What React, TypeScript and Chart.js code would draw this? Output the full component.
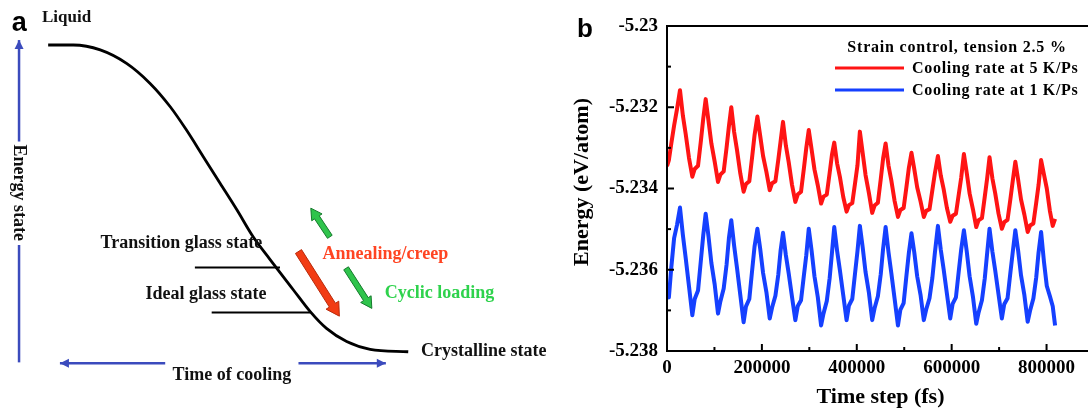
import React, { useEffect, useRef } from "react";
import { Chart, registerables } from "chart.js";

Chart.register(...registerables);

const SERIF = '"Liberation Serif", "Times New Roman", serif';
const SANS = '"Liberation Sans", Arial, sans-serif';

// ---------------- Panel a: schematic (arbitrary units 0–100) ----------------
const coolingTime = [8.6, 13.1, 17.9, 22.6, 26.8, 30.4, 33.3, 36.3, 39.3, 42.3, 45.2, 48.2, 52.4, 55.4, 58.3, 61.9, 66.1, 72.9];
const coolingEnergy = [89.0, 89.0, 87.8, 84.5, 79.6, 73.9, 68.2, 61.7, 55.2, 48.7, 42.1, 36.6, 29.1, 23.8, 19.7, 16.5, 14.6, 14.0];

const transitionLineTime = [34.8, 50.0];
const transitionLineEnergy = [34.6, 34.6];
const idealLineTime = [37.8, 55.4];
const idealLineEnergy = [23.6, 23.6];

// axis arrows (last point = arrow tip when it has a head)
const energyAxisLowTime = [3.4, 3.4];
const energyAxisLowEnergy = [11.4, 40.1];
const energyAxisHighTime = [3.4, 3.4];
const energyAxisHighEnergy = [65.4, 90.2];
const timeAxisLeftTime = [29.5, 10.7];
const timeAxisLeftEnergy = [11.2, 11.2];
const timeAxisRightTime = [53.3, 68.9];
const timeAxisRightEnergy = [11.2, 11.2];

// block arrows: [tailTime, tailEnergy, tipTime, tipEnergy]
const annealingArrow = [53.3, 38.5, 60.6, 22.7];
const cyclicUpArrow = [58.9, 42.1, 55.5, 49.1];
const cyclicDownArrow = [61.8, 34.4, 66.4, 24.6];

const schematicLabels = ["Liquid", "Transition glass state", "Ideal glass state", "Crystalline state", "Annealing/creep", "Cyclic loading", "Time of cooling", "Energy state"];
const schematicLabelTime = [7.5, 32.4, 36.8, 75.2, 57.6, 68.7, 41.4, 3.4];
const schematicLabelEnergy = [95.8, 40.5, 28.0, 14.0, 37.9, 28.4, 8.3, 52.9];

// ---------------- Panel b: energy vs time step ----------------
const timeSteps = [
  0, 4000, 9000, 15000, 21000,
  27400, 33400, 39400, 46400, 53400, 58400, 65400, 71400, 76400,
  81500, 87500, 93500, 100500, 107500, 112500, 119500, 125500, 130500,
  135500, 141500, 147500, 154500, 161500, 166500, 173500, 179500, 184500,
  190500, 196500, 202500, 209500, 216500, 221500, 228500, 234500, 239500,
  244500, 250500, 256500, 263500, 270500, 275500, 282500, 288500, 293500,
  298800, 304800, 310800, 317800, 324800, 329800, 336800, 342800, 347800,
  352500, 358500, 364500, 371500, 378500, 383500, 390500, 396500, 401500,
  406500, 412500, 418500, 425500, 432500, 437500, 444500, 450500, 455500,
  460800, 466800, 472800, 479800, 486800, 491800, 498800, 504800, 509800,
  515300, 521300, 527300, 534300, 541300, 546300, 553300, 559300, 564300,
  571000, 577000, 583000, 590000, 597000, 602000, 609000, 615000, 620000,
  625800, 631800, 637800, 644800, 651800, 656800, 663800, 669800, 674800,
  679800, 685800, 691800, 698800, 705800, 710800, 717800, 723800, 728800,
  734200, 740200, 746200, 753200, 760200, 765200, 772200, 778200, 783200,
  788500, 794500, 800500, 807000, 813000, 818000,
];

const energy5KPs = [
  -5.23345, -5.2333, -5.2329, -5.23245, -5.23205,
  -5.23158, -5.2322, -5.23266, -5.23325, -5.23371, -5.23352, -5.23344, -5.23283, -5.23228,
  -5.2318, -5.23234, -5.23289, -5.23334, -5.23384, -5.23366, -5.23358, -5.233, -5.23247,
  -5.232, -5.23261, -5.23305, -5.23363, -5.23408, -5.23389, -5.23382, -5.23322, -5.23269,
  -5.23223, -5.23271, -5.2332, -5.23359, -5.23404, -5.23387, -5.23382, -5.2333, -5.23283,
  -5.23236, -5.23294, -5.23335, -5.23391, -5.23433, -5.23415, -5.23408, -5.23351, -5.23301,
  -5.23256, -5.23304, -5.23353, -5.23392, -5.23437, -5.2342, -5.23415, -5.23362, -5.23316,
  -5.23287, -5.23338, -5.23372, -5.23421, -5.23457, -5.23441, -5.23436, -5.23386, -5.23343,
  -5.2326, -5.23313, -5.23367, -5.23411, -5.2346, -5.23442, -5.23435, -5.23377, -5.23326,
  -5.23289, -5.23343, -5.2338, -5.23431, -5.2347, -5.23453, -5.23448, -5.23395, -5.23349,
  -5.23312, -5.23353, -5.23397, -5.23431, -5.2347, -5.23455, -5.23451, -5.23404, -5.23365,
  -5.2332, -5.23368, -5.23401, -5.23448, -5.23482, -5.23467, -5.23462, -5.23414, -5.23374,
  -5.23315, -5.23362, -5.23412, -5.23451, -5.23495, -5.23478, -5.23473, -5.2342, -5.23375,
  -5.23323, -5.23375, -5.23412, -5.23462, -5.23499, -5.23483, -5.23477, -5.23426, -5.23381,
  -5.23334, -5.23379, -5.23427, -5.23464, -5.23507, -5.23491, -5.23486, -5.23435, -5.23391,
  -5.2333, -5.23365, -5.234, -5.23455, -5.23492, -5.23475,
];

const energy1KPs = [
  -5.2365, -5.23668, -5.23595, -5.23522, -5.2349,
  -5.23447, -5.23514, -5.23571, -5.23641, -5.23712, -5.23672, -5.23651, -5.23577, -5.23515,
  -5.23462, -5.23518, -5.23583, -5.23636, -5.23708, -5.23678, -5.23646, -5.23588, -5.23522,
  -5.23478, -5.23541, -5.23595, -5.23662, -5.23729, -5.2369, -5.23672, -5.23601, -5.23543,
  -5.23499, -5.23549, -5.23608, -5.23655, -5.2372, -5.23693, -5.23664, -5.23613, -5.23552,
  -5.23509, -5.23564, -5.23609, -5.23667, -5.23724, -5.2369, -5.23675, -5.23614, -5.23565,
  -5.23499, -5.23553, -5.23616, -5.23667, -5.23737, -5.23708, -5.23677, -5.23621, -5.23557,
  -5.23495, -5.23553, -5.23602, -5.23663, -5.23724, -5.23688, -5.23672, -5.23607, -5.23554,
  -5.23492, -5.23545, -5.23606, -5.23656, -5.23724, -5.23695, -5.23665, -5.23611, -5.23548,
  -5.23495, -5.23556, -5.23608, -5.23672, -5.23737, -5.23699, -5.23682, -5.23613, -5.23558,
  -5.2351, -5.23558, -5.23616, -5.23661, -5.23724, -5.23698, -5.2367, -5.2362, -5.23562,
  -5.23492, -5.2355, -5.23598, -5.23659, -5.2372, -5.23684, -5.23668, -5.23603, -5.23551,
  -5.23503, -5.23555, -5.23616, -5.23666, -5.23733, -5.23705, -5.23675, -5.23621, -5.23559,
  -5.23499, -5.23555, -5.23602, -5.23661, -5.2372, -5.23685, -5.2367, -5.23607, -5.23556,
  -5.23503, -5.23554, -5.23614, -5.23662, -5.23728, -5.23701, -5.23671, -5.23619, -5.23557,
  -5.23507, -5.2358, -5.2364, -5.23665, -5.2369, -5.23737,
];

const seriesNames = ["Cooling rate at 5 K/Ps", "Cooling rate at 1 K/Ps"];
const legendTitle = "Strain control, tension 2.5 %";

const RED = "#ff1414";
const BLUE = "#1540ff";
const AXIS_BLUE = "#3b4bbd";

const pts = (xs: number[], ys: number[]) => xs.map((x, i) => ({ x, y: ys[i] }));

function drawBlockArrow(ctx: CanvasRenderingContext2D, t: number[], tip: number[], sw: number, hw: number, hl: number, fill: string, stroke: string) {
  const dx = tip[0] - t[0];
  const dy = tip[1] - t[1];
  const len = Math.hypot(dx, dy);
  const ux = dx / len, uy = dy / len;
  const nx = -uy, ny = ux;
  const bx = tip[0] - ux * hl, by = tip[1] - uy * hl;
  ctx.beginPath();
  ctx.moveTo(t[0] + nx * sw, t[1] + ny * sw);
  ctx.lineTo(bx + nx * sw, by + ny * sw);
  ctx.lineTo(bx + nx * hw, by + ny * hw);
  ctx.lineTo(tip[0], tip[1]);
  ctx.lineTo(bx - nx * hw, by - ny * hw);
  ctx.lineTo(bx - nx * sw, by - ny * sw);
  ctx.lineTo(t[0] - nx * sw, t[1] - ny * sw);
  ctx.closePath();
  ctx.fillStyle = fill;
  ctx.fill();
  ctx.lineWidth = 1;
  ctx.strokeStyle = stroke;
  ctx.stroke();
}

function drawHead(ctx: CanvasRenderingContext2D, from: number[], tip: number[], len: number, half: number, color: string) {
  const dx = tip[0] - from[0];
  const dy = tip[1] - from[1];
  const l = Math.hypot(dx, dy);
  const ux = dx / l, uy = dy / l;
  const bx = tip[0] - ux * len, by = tip[1] - uy * len;
  ctx.beginPath();
  ctx.moveTo(tip[0], tip[1]);
  ctx.lineTo(bx - uy * half, by + ux * half);
  ctx.lineTo(bx + uy * half, by - ux * half);
  ctx.closePath();
  ctx.fillStyle = color;
  ctx.fill();
}

const schematicPlugin = {
  id: "schematic",
  afterDatasetsDraw(chart: any) {
    const { ctx } = chart;
    const xs = chart.scales.x, ys = chart.scales.y;
    const P = (u: number, v: number) => [xs.getPixelForValue(u), ys.getPixelForValue(v)];
    ctx.save();
    const heads = [
      [energyAxisHighTime, energyAxisHighEnergy],
      [timeAxisLeftTime, timeAxisLeftEnergy],
      [timeAxisRightTime, timeAxisRightEnergy],
    ];
    heads.forEach(([t, e]) => {
      drawHead(ctx, P(t[0], e[0]), P(t[1], e[1]), 9, 4.5, AXIS_BLUE);
    });
    drawBlockArrow(ctx, P(annealingArrow[0], annealingArrow[1]), P(annealingArrow[2], annealingArrow[3]), 3.6, 7.5, 13, "#f23c14", "#b82a0a");
    drawBlockArrow(ctx, P(cyclicUpArrow[0], cyclicUpArrow[1]), P(cyclicUpArrow[2], cyclicUpArrow[3]), 2.8, 6.2, 11, "#2fc44c", "#157a2c");
    drawBlockArrow(ctx, P(cyclicDownArrow[0], cyclicDownArrow[1]), P(cyclicDownArrow[2], cyclicDownArrow[3]), 2.8, 6.2, 11, "#2fc44c", "#157a2c");

    ctx.textBaseline = "middle";
    schematicLabels.forEach((txt, i) => {
      const [px, py] = P(schematicLabelTime[i], schematicLabelEnergy[i]);
      ctx.save();
      ctx.fillStyle = "#111";
      ctx.textAlign = "left";
      ctx.font = `bold 18px ${SERIF}`;
      if (txt === "Liquid") ctx.font = `bold 17px ${SERIF}`;
      if (txt === "Transition glass state" || txt === "Ideal glass state" || txt === "Time of cooling") ctx.textAlign = "center";
      if (txt === "Annealing/creep") ctx.fillStyle = "#ff4422";
      if (txt === "Cyclic loading") ctx.fillStyle = "#2ed24c";
      if (txt === "Energy state") {
        ctx.translate(px, py);
        ctx.rotate(Math.PI / 2);
        ctx.textAlign = "center";
        ctx.fillText(txt, 0, 0);
      } else {
        ctx.fillText(txt, px, py);
      }
      ctx.restore();
    });
    ctx.fillStyle = "#000";
    ctx.textAlign = "left";
    ctx.textBaseline = "alphabetic";
    ctx.font = `bold 27px ${SANS}`;
    const [lx, ly] = P(2.1, 92.3);
    ctx.fillText("a", lx, ly);
    ctx.restore();
  },
};

const energyPlugin = {
  id: "energyDecor",
  afterDraw(chart: any) {
    const { ctx, chartArea } = chart;
    const xs = chart.scales.x, ys = chart.scales.y;
    const { left, top, right, bottom } = chartArea;
    ctx.save();
    ctx.strokeStyle = "#000";
    ctx.lineWidth = 2;
    ctx.strokeRect(left, top, right - left, bottom - top);
    xs.ticks.forEach((t: any) => {
      const px = xs.getPixelForValue(t.value);
      const major = Math.round(t.value / 100000) % 2 === 0;
      ctx.beginPath();
      ctx.moveTo(px, bottom);
      ctx.lineTo(px, bottom - (major ? 7 : 4));
      ctx.stroke();
    });
    ys.ticks.forEach((t: any) => {
      const py = ys.getPixelForValue(t.value);
      const major = Math.round(t.value * 1000) % 2 === 0;
      ctx.beginPath();
      ctx.moveTo(left, py);
      ctx.lineTo(left + (major ? 7 : 4), py);
      ctx.stroke();
    });
    ctx.fillStyle = "#000";
    ctx.font = `bold 22px ${SERIF}`;
    ctx.textAlign = "center";
    ctx.textBaseline = "middle";
    ctx.save();
    ctx.translate(22, 182);
    ctx.rotate(-Math.PI / 2);
    ctx.fillText("Energy (eV/atom)", 0, 0);
    ctx.restore();
    ctx.font = `bold 16px ${SERIF}`;
    (ctx as any).letterSpacing = "0.8px";
    ctx.textAlign = "center";
    ctx.fillText(legendTitle, left + 290, top + 22);
    ctx.textAlign = "left";
    (ctx as any).letterSpacing = "0.7px";
    const colors = [RED, BLUE];
    seriesNames.forEach((name, i) => {
      const y = top + 42 + i * 22;
      ctx.strokeStyle = colors[i];
      ctx.lineWidth = 3;
      ctx.beginPath();
      ctx.moveTo(left + 168, y);
      ctx.lineTo(left + 237, y);
      ctx.stroke();
      ctx.fillStyle = "#000";
      ctx.fillText(name, left + 245, y + 1);
    });
    (ctx as any).letterSpacing = "0px";
    ctx.font = `bold 26px ${SANS}`;
    ctx.textBaseline = "alphabetic";
    ctx.fillText("b", 17, 37);
    ctx.restore();
  },
};

function SchematicPanel() {
  const ref = useRef<HTMLCanvasElement>(null);
  useEffect(() => {
    if (!ref.current) return;
    const line = (xs: number[], ys: number[], color: string, width: number, extra: any = {}) => ({
      data: pts(xs, ys),
      borderColor: color,
      borderWidth: width,
      pointRadius: 0,
      fill: false,
      ...extra,
    });
    const chart = new Chart(ref.current, {
      type: "line",
      data: {
        datasets: [
          line(coolingTime, coolingEnergy, "#000", 2.8, { cubicInterpolationMode: "monotone" }),
          line(transitionLineTime, transitionLineEnergy, "#000", 2.2),
          line(idealLineTime, idealLineEnergy, "#000", 2.2),
          line(energyAxisLowTime, energyAxisLowEnergy, AXIS_BLUE, 2.5),
          line(energyAxisHighTime, energyAxisHighEnergy, AXIS_BLUE, 2.5),
          line(timeAxisLeftTime, timeAxisLeftEnergy, AXIS_BLUE, 2.5),
          line(timeAxisRightTime, timeAxisRightEnergy, AXIS_BLUE, 2.5),
        ] as any,
      },
      options: {
        responsive: false,
        animation: false,
        events: [],
        layout: { padding: 0 },
        plugins: { legend: { display: false }, tooltip: { enabled: false } },
        scales: {
          x: { type: "linear", min: 0, max: 100, display: false },
          y: { type: "linear", min: 0, max: 100, display: false },
        },
      },
      plugins: [schematicPlugin],
    } as any);
    return () => chart.destroy();
  }, []);
  return <canvas ref={ref} width={560} height={409} style={{ position: "absolute", left: 0, top: 0 }} />;
}

function EnergyPanel() {
  const ref = useRef<HTMLCanvasElement>(null);
  useEffect(() => {
    if (!ref.current) return;
    const chart = new Chart(ref.current, {
      type: "line",
      data: {
        datasets: [
          { label: seriesNames[0], data: pts(timeSteps, energy5KPs), borderColor: RED, borderWidth: 4, pointRadius: 0, tension: 0, borderJoinStyle: "round" },
          { label: seriesNames[1], data: pts(timeSteps, energy1KPs), borderColor: BLUE, borderWidth: 4, pointRadius: 0, tension: 0, borderJoinStyle: "round" },
        ] as any,
      },
      options: {
        responsive: false,
        animation: false,
        events: [],
        layout: { padding: { left: 0, right: 5.5, top: 26, bottom: 0 } },
        plugins: { legend: { display: false }, tooltip: { enabled: false } },
        scales: {
          x: {
            type: "linear",
            min: 0,
            max: 900000,
            grid: { display: false, drawTicks: false },
            border: { display: false },
            afterFit: (s: any) => { s.height = 58; },
            ticks: {
              stepSize: 100000,
              autoSkip: false,
              maxRotation: 0,
              padding: 6,
              color: "#000",
              font: { family: SERIF, size: 19, weight: "bold" },
              callback: (v: any) => (Math.round(v / 100000) % 2 === 0 && v <= 800000 ? String(v) : ""),
            },
            title: {
              display: true,
              text: "Time step (fs)",
              color: "#000",
              font: { family: SERIF, size: 22, weight: "bold", lineHeight: 1 },
              padding: { top: 0, bottom: 1 },
            },
          },
          y: {
            type: "linear",
            min: -5.238,
            max: -5.23,
            grid: { display: false, drawTicks: false },
            border: { display: false },
            afterFit: (s: any) => { s.width = 107; },
            ticks: {
              stepSize: 0.001,
              autoSkip: false,
              padding: 9,
              color: "#000",
              font: { family: SERIF, size: 19, weight: "bold" },
              callback: (v: any) => {
                const k = Math.round(v * 1000);
                return k % 2 === 0 ? String(k / 1000) : "";
              },
            },
          },
        },
      },
      plugins: [energyPlugin],
    } as any);
    return () => chart.destroy();
  }, []);
  return <canvas ref={ref} width={540} height={409} style={{ position: "absolute", left: 560, top: 0 }} />;
}

export default function App() {
  return (
    <div style={{ position: "fixed", left: 0, top: 0, width: 1088, height: 409, overflow: "hidden", background: "#fff" }}>
      <SchematicPanel />
      <EnergyPanel />
    </div>
  );
}
